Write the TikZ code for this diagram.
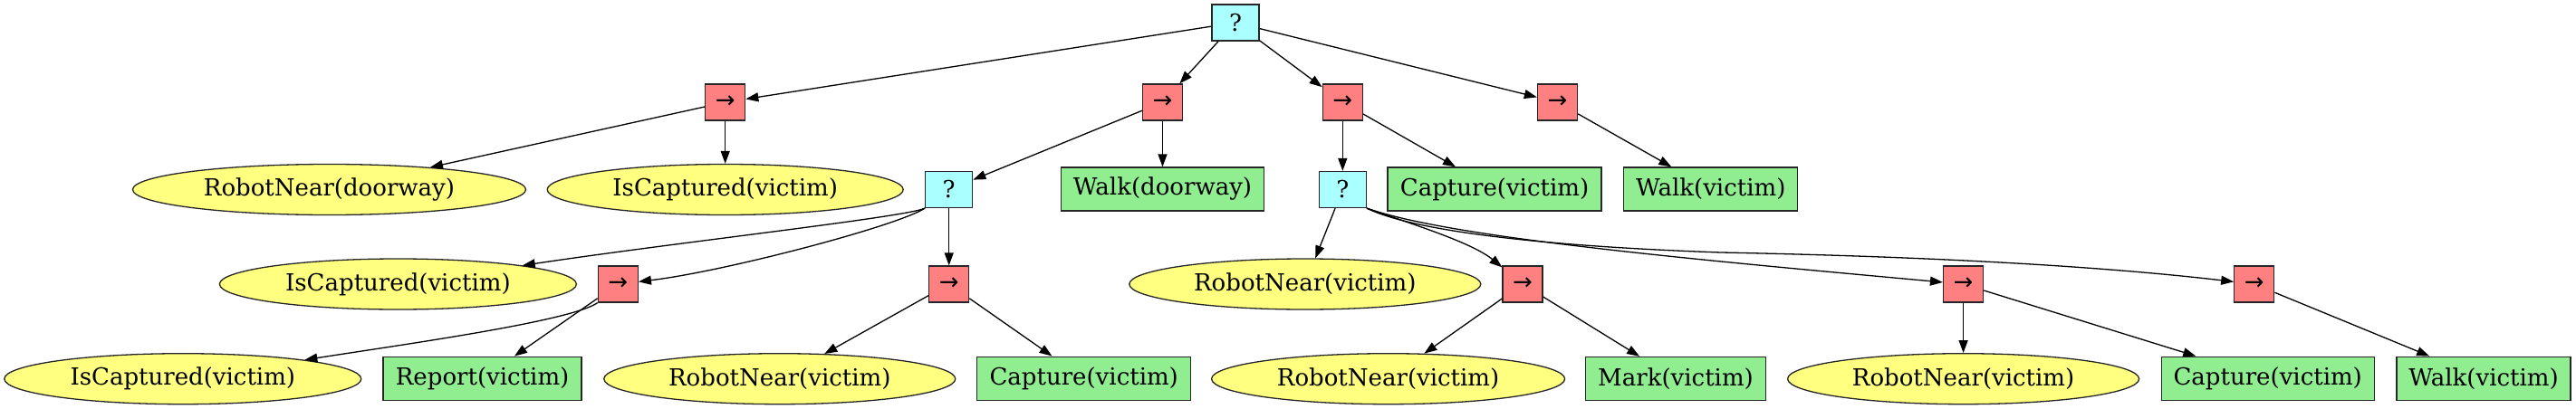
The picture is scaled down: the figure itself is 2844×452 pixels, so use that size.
\documentclass[tikz,border=0pt]{standalone}
\usepackage{fontspec}
\setmainfont{DejaVu Serif}
\newfontfamily\arrowfont{DejaVu Sans}
\usetikzlibrary{arrows.meta,shapes.geometric}
\definecolor{selc}{HTML}{AAFFFF}
\definecolor{seqc}{HTML}{FF8080}
\definecolor{actc}{HTML}{90EE90}
\definecolor{condc}{HTML}{FFFF80}
\tikzset{
  base/.style={draw=black!85, line width=1.3pt, inner sep=0pt, font=\fontsize{26}{30}\selectfont},
  selbox/.style={base, rectangle, fill=selc, minimum width=52pt, minimum height=40pt},
  seqbox/.style={base, rectangle, fill=seqc, minimum width=44pt, minimum height=40pt, font=\fontsize{26}{30}\selectfont\arrowfont},
  actbox/.style={base, rectangle, fill=actc, minimum height=48pt},
  condell/.style={base, ellipse, fill=condc, minimum height=56pt},
  edge/.style={-{Triangle[length=14pt,width=10pt]}, line width=1.3pt, black},
}
\begin{document}
\begin{tikzpicture}[x=1pt,y=-1pt]
\useasboundingbox (0,0) rectangle (2844,452);
% level 0
\node[selbox] (root) at (1364,25) {?};
% level 1
\node[seqbox] (seq1) at (800.7,113) {→};
\node[seqbox] (seq2) at (1283.5,113) {→};
\node[seqbox] (seq3) at (1482.3,113) {→};
\node[seqbox] (seq4) at (1719.5,113) {→};
% level 2
\node[condell, minimum width=434pt] (rnd) at (363.5,209.5) {RobotNear(doorway)};
\node[condell, minimum width=393pt] (ic2) at (800.7,209.5) {IsCaptured(victim)};
\node[selbox] (sel2) at (1047.7,209.5) {?};
\node[actbox, minimum width=223.5pt] (wd) at (1283.5,209) {Walk(doorway)};
\node[selbox] (sel3) at (1482.3,209.5) {?};
\node[actbox, minimum width=236pt] (cap2) at (1650,209) {Capture(victim)};
\node[actbox, minimum width=192pt] (wv2) at (1888.7,209) {Walk(victim)};
% level 3
\node[condell, minimum width=394pt] (ic3) at (439.4,314) {IsCaptured(victim)};
\node[seqbox] (seq5) at (682.3,314) {→};
\node[seqbox] (seq6) at (1047.7,314) {→};
\node[condell, minimum width=388pt] (rnv3) at (1440.8,314) {RobotNear(victim)};
\node[seqbox] (seq7) at (1681,314) {→};
\node[seqbox] (seq8) at (2167.6,314) {→};
\node[seqbox] (seq9) at (2488.8,314) {→};
% level 4
\node[condell, minimum width=394pt] (ic4) at (201.8,418.7) {IsCaptured(victim)};
\node[actbox, minimum width=219pt] (rep) at (532.6,418.2) {Report(victim)};
\node[condell, minimum width=388pt] (rnv4a) at (860.8,418.7) {RobotNear(victim)};
\node[actbox, minimum width=236pt] (cap4a) at (1196.7,418.2) {Capture(victim)};
\node[condell, minimum width=390pt] (rnv4b) at (1532.6,418.7) {RobotNear(victim)};
\node[actbox, minimum width=199pt] (mark) at (1850,418.5) {Mark(victim)};
\node[condell, minimum width=388pt] (rnv4c) at (2167.6,418.7) {RobotNear(victim)};
\node[actbox, minimum width=235pt] (cap4b) at (2503.7,418.2) {Capture(victim)};
\node[actbox, minimum width=192pt] (wv4) at (2742,418.2) {Walk(victim)};
% edges
\draw[edge] (root) -- (seq1);
\draw[edge] (root) -- (seq2);
\draw[edge] (root) -- (seq3);
\draw[edge] (root) -- (seq4);
\draw[edge] (seq1) -- (rnd);
\draw[edge] (seq1) -- (ic2);
\draw[edge] (seq2) -- (sel2);
\draw[edge] (seq2) -- (wd);
\draw[edge] (seq3) -- (sel3);
\draw[edge] (seq3) -- (cap2);
\draw[edge] (seq4) -- (wv2);
\draw[edge] (sel2.south west) .. controls (1000,240) and (746,268) .. (ic3);
\draw[edge] (sel2.south west) .. controls (990,250) and (800,300) .. (seq5);
\draw[edge] (sel2) -- (seq6);
\draw[edge] (seq5.south west) .. controls (630,355) and (450,380) .. (ic4);
\draw[edge] (seq5) -- (rep);
\draw[edge] (seq6) -- (rnv4a);
\draw[edge] (seq6) -- (cap4a);
\draw[edge] (sel3) -- (rnv3);
\draw[edge] (sel3.south east) .. controls (1560,248) and (1625,268) .. (seq7);
\draw[edge] (sel3.south east) .. controls (1600,262) and (1850,285) .. (seq8);
\draw[edge] (sel3.south east) .. controls (1560,255) and (1700,272) .. (1900,279) .. controls (2100,283) and (2300,292) .. (seq9);
\draw[edge] (seq7) -- (rnv4b);
\draw[edge] (seq7) -- (mark);
\draw[edge] (seq8) -- (rnv4c);
\draw[edge] (seq8) -- (cap4b);
\draw[edge] (seq9) -- (wv4);
\end{tikzpicture}
\end{document}
